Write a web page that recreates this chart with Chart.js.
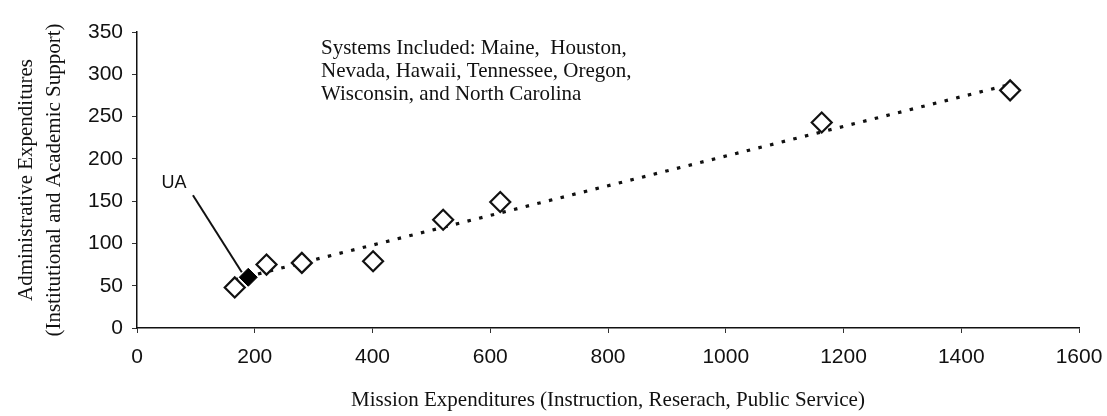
<!DOCTYPE html>
<html>
<head>
<meta charset="utf-8">
<script src="https://cdn.jsdelivr.net/npm/chart.js@4.4.1/dist/chart.umd.min.js"></script>
<style>
  body { margin: 0; background: #fff; }
  #wrap { width: 1107px; height: 416px; }
</style>
</head>
<body>
<div id="wrap"><canvas id="myChart" width="1107" height="416"></canvas></div>
<script>
// systems (open diamonds)
const missionX = [166, 220, 280, 401, 520, 617, 1163, 1483];
const adminY = [48, 75, 77, 79, 128, 149, 243, 281];
// University of Arizona (filled diamond)
const uaX = [189];
const uaY = [60];
// dotted trend line, end points
const trendX = [166, 1483];
const trendY = [57, 288];
// leader line from the "UA" label to its point
const pointerX = [95, 178];
const pointerY = [157, 66];

const xTicks = [0, 200, 400, 600, 800, 1000, 1200, 1400, 1600];
const yTicks = [0, 50, 100, 150, 200, 250, 300, 350];

const noteLines = [
  'Systems Included: Maine,  Houston,',
  'Nevada, Hawaii, Tennessee, Oregon,',
  'Wisconsin, and North Carolina'
];

function pts(xs, ys) {
  return xs.map((x, i) => ({ x: x, y: ys[i] }));
}

const notes = {
  id: 'notes',
  afterDraw(chart) {
    const c = chart.ctx;
    const a = chart.chartArea;
    c.save();
    c.fillStyle = '#111';
    c.textBaseline = 'middle';
    c.textAlign = 'left';
    c.font = '21px "Liberation Serif", "Times New Roman", serif';
    noteLines.forEach((t, i) => c.fillText(t, a.left + 184, 48 + i * 23));
    c.font = '18px "Liberation Sans", Arial, sans-serif';
    c.textAlign = 'center';
    c.fillText('UA', 174, 183);
    c.restore();
  }
};

const tickFont = { family: '"Liberation Sans", Arial, sans-serif', size: 21 };
const titleFont = { family: '"Liberation Serif", "Times New Roman", serif', size: 21 };

const ctx = document.getElementById('myChart').getContext('2d');
const myChart = new Chart(ctx, {
  type: 'scatter',
  data: {
    datasets: [
      {
        data: pts(pointerX, pointerY),
        showLine: true,
        borderColor: '#111',
        borderWidth: 2,
        pointRadius: 0,
        order: 4
      },
      {
        data: pts(trendX, trendY),
        showLine: true,
        borderColor: '#111',
        borderWidth: 3.2,
        borderDash: [3.5, 8.5],
        pointRadius: 0,
        order: 3
      },
      {
        data: pts(missionX, adminY),
        pointStyle: 'rectRot',
        pointRadius: 10,
        pointBorderWidth: 2.2,
        pointBorderColor: '#111',
        pointBackgroundColor: '#fff',
        order: 2
      },
      {
        data: pts(uaX, uaY),
        pointStyle: 'rectRot',
        pointRadius: 9,
        pointBorderWidth: 1,
        pointBorderColor: '#000',
        pointBackgroundColor: '#000',
        order: 1
      }
    ]
  },
  options: {
    responsive: false,
    animation: false,
    layout: { padding: { top: 32, right: 28, left: 0, bottom: 0 } },
    plugins: {
      legend: { display: false },
      tooltip: { enabled: false }
    },
    scales: {
      x: {
        type: 'linear',
        min: 0,
        max: 1600,
        afterBuildTicks: s => { s.ticks = xTicks.map(v => ({ value: v })); },
        afterFit: s => { s.height = 88; s.paddingLeft = 0; s.paddingRight = 0; },
        ticks: { color: '#111', font: tickFont, padding: 12, maxRotation: 0, callback: v => String(v) },
        grid: { display: true, drawOnChartArea: false, tickLength: 5, color: '#333' },
        border: { color: '#111', width: 1.5 },
        title: {
          display: true,
          text: 'Mission Expenditures (Instruction, Reserach, Public Service)',
          color: '#111',
          font: titleFont,
          padding: { bottom: 3, top: 0 }
        }
      },
      y: {
        type: 'linear',
        min: 0,
        max: 350,
        afterBuildTicks: s => { s.ticks = yTicks.map(v => ({ value: v })); },
        afterFit: s => { s.width = 137; s.paddingTop = 0; s.paddingBottom = 0; },
        ticks: { color: '#111', font: tickFont, padding: 9, callback: v => String(v) },
        grid: { display: true, drawOnChartArea: false, tickLength: 5, color: '#333' },
        border: { color: '#111', width: 1.5 },
        title: {
          display: true,
          text: ['Administrative Expenditures', '(Institutional and Academic Support)'],
          color: '#111',
          font: { family: titleFont.family, size: 21, lineHeight: 1.33 },
          padding: { top: 13, bottom: 0 }
        }
      }
    }
  },
  plugins: [notes]
});
</script>
</body>
</html>
